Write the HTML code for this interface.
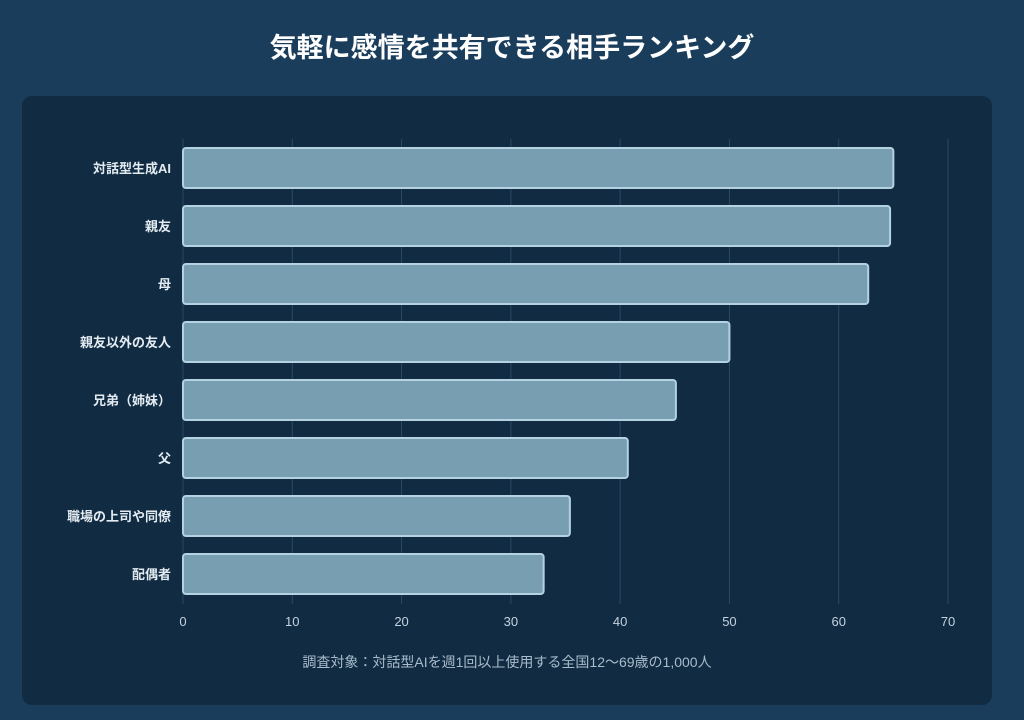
<!DOCTYPE html>
<html><head><meta charset="utf-8"><style>
html,body{margin:0;padding:0}
body{width:1024px;height:720px;background:#1a3d5c;font-family:"Liberation Sans","Noto Sans CJK JP",sans-serif;overflow:hidden;position:relative}
#title{position:absolute;top:26px;left:0;width:1024px;text-align:center;color:#fff;font-size:27px;font-weight:bold;margin:0}
#panel{position:absolute;left:22px;top:96px;width:970px;height:609px;background:#102b42;border-radius:10px}
</style></head><body>
<h1 id="title">気軽に感情を共有できる相手ランキング</h1>
<div id="panel"></div>
<svg id="chart" width="1024" height="720" style="position:absolute;left:0;top:0"></svg>
<script>
const categories=["対話型生成AI","親友","母","親友以外の友人","兄弟（姉妹）","父","職場の上司や同僚","配偶者"];
const values=[65,64.7,62.7,50,45.1,40.7,35.4,33];
const ticks=[0,10,20,30,40,50,60,70];
const NS="http://www.w3.org/2000/svg";
const svg=document.getElementById('chart');
const x0=183,x1=948,xMax=70,yTop=139,step=58,barH=40;
const xs=v=>x0+(v/xMax)*(x1-x0);
const yc=i=>yTop+step*i+step/2;
function mk(t,a){const e=document.createElementNS(NS,t);for(const k in a)e.setAttribute(k,a[k]);svg.appendChild(e);return e;}
ticks.forEach(t=>{
 const g=mk('line',{x1:xs(t),x2:xs(t),y1:139,y2:604,stroke:'#2a4a63','stroke-width':1});
 
 
 const l=mk('text',{x:xs(t),y:626,fill:'#c5d3df','font-size':13,'text-anchor':'middle'});
 l.textContent=t;
 
 
});
categories.forEach((c,i)=>{
 const r=mk('rect',{x:x0,y:yc(i)-barH/2,width:xs(values[i])-x0,height:barH,rx:3,fill:'#779eb1',stroke:'#b5d2e2','stroke-width':2});
 
 
 const l=mk('text',{x:171,y:yc(i)+5,fill:'#e3ebf1','font-size':13,'font-weight':'bold','text-anchor':'end'});
 l.textContent=c;
 
 
});
const f=mk('text',{x:507,y:667,fill:'#a9bccb','font-size':14,'text-anchor':'middle'});
f.textContent='調査対象：対話型AIを週1回以上使用する全国12〜69歳の1,000人';


</script>
</body></html>
